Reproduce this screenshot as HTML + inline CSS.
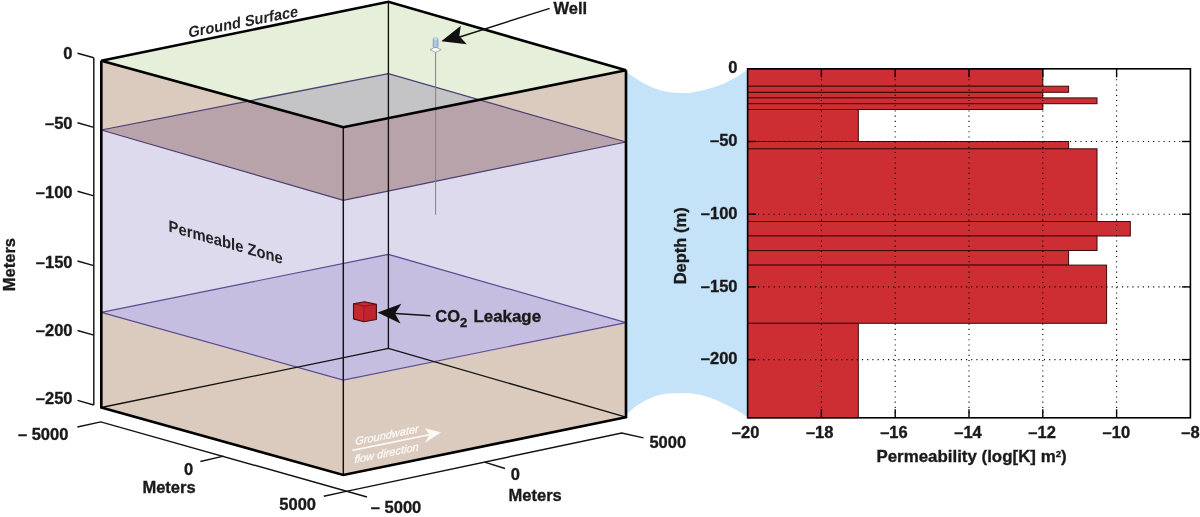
<!DOCTYPE html>
<html><head><meta charset="utf-8"><style>
html,body{margin:0;padding:0;background:#fff;}
svg{display:block;}
</style></head><body>
<svg width="1200" height="517" viewBox="0 0 1200 517">
<path d="M623.5,69.5 C624.2,70.0 626.3,71.4 627.7,72.4 C629.1,73.5 630.0,74.5 631.8,75.8 C633.6,77.1 636.2,78.8 638.5,80.2 C640.8,81.6 643.0,83.1 645.3,84.3 C647.5,85.5 649.8,86.4 652,87.3 C654.2,88.2 656.5,89.0 658.7,89.7 C661.0,90.4 663.2,91.0 665.5,91.4 C667.8,91.9 670.0,92.2 672.3,92.4 C674.5,92.7 676.8,92.8 679,92.9 C681.2,93.0 683.4,93.1 685.5,93.0 C687.6,92.9 689.6,92.7 691.8,92.4 C694.0,92.1 696.2,91.7 698.5,91.3 C700.8,90.9 703.0,90.4 705.3,89.8 C707.5,89.2 709.7,88.5 712,87.8 C714.3,87.1 716.6,86.2 718.9,85.4 C721.2,84.6 723.4,83.7 725.6,82.7 C727.9,81.7 730.1,80.5 732.4,79.3 C734.7,78.0 736.9,76.7 739.2,75.2 C741.5,73.7 744.4,71.7 746,70.5 C747.6,69.3 748.5,68.4 749,68 L749,418.5 C748.5,418.1 747.5,417.2 745.9,416.1 C744.3,415.0 741.5,413.1 739.2,411.7 C737.0,410.3 734.7,409.2 732.4,408 C730.1,406.8 727.9,405.7 725.6,404.6 C723.4,403.5 721.1,402.2 718.9,401.2 C716.6,400.2 714.4,399.3 712.1,398.5 C709.8,397.7 707.6,396.9 705.3,396.2 C703.0,395.5 700.8,394.9 698.5,394.5 C696.2,394.1 694.0,393.8 691.8,393.5 C689.5,393.2 687.1,393.1 685,393 C682.9,392.9 681.3,392.9 679.2,393 C677.1,393.1 674.7,393.2 672.4,393.3 C670.1,393.4 667.8,393.5 665.5,393.8 C663.2,394.1 661.0,394.6 658.7,395.2 C656.5,395.8 654.2,396.6 652,397.5 C649.8,398.4 647.5,399.4 645.3,400.6 C643.0,401.8 640.8,403.1 638.5,404.6 C636.2,406.1 633.6,408.2 631.8,409.7 C630.0,411.2 629.1,412.2 627.7,413.4 C626.3,414.6 624.2,416.4 623.5,417 Z" fill="#c5e3f8"/>
<defs>
<clipPath id="cFront"><polygon points="101.3,60.8 343.3,127.2 626.0,70.3 626.0,417.2 343.3,475.0 101.3,407.5"/></clipPath>
<clipPath id="cTop"><polygon points="101.3,60.8 388.4,1.8 626.0,70.3 343.3,127.2"/></clipPath>
</defs>
<polygon points="101.3,60.8 343.3,127.2 626.0,70.3 626.0,142.0 343.3,200.3 101.3,130.0" fill="#dacbbe"/>
<polygon points="101.3,130.0 343.3,200.3 626.0,142.0 626.0,322.7 343.3,380.1 101.3,312.4" fill="#dedaee"/>
<polygon points="101.3,312.4 343.3,380.1 626.0,322.7 626.0,417.2 343.3,475.0 101.3,407.5" fill="#dacbbe"/>
<polygon points="101.3,60.8 388.4,1.8 626.0,70.3 343.3,127.2" fill="#e5efd9"/>
<polygon points="101.3,130.0 388.4,73.6 626.0,142.0 343.3,200.3" fill="#b9a3ab" clip-path="url(#cFront)"/>
<polygon points="101.3,130.0 388.4,73.6 626.0,142.0 343.3,200.3" fill="#c4c4c6" clip-path="url(#cTop)"/>
<polygon points="101.3,312.4 388.4,254.3 626.0,322.7 343.3,380.1" fill="#c6bee0"/>
<polygon points="101.3,130.0 388.4,73.6 626.0,142.0 343.3,200.3" fill="none" stroke="#4a3d70" stroke-width="1.25"/>
<polygon points="101.3,312.4 388.4,254.3 626.0,322.7 343.3,380.1" fill="none" stroke="#5a4b92" stroke-width="1.2"/>
<polyline points="388.4,1.8 388.4,348.4" fill="none" stroke="#111" stroke-width="1.35"/>
<polyline points="101.3,407.5 388.4,348.4 626.0,417.2" fill="none" stroke="#111" stroke-width="1.3"/>
<polyline points="343.3,127.2 343.3,475.0" fill="none" stroke="#111" stroke-width="1.45"/>
<line x1="435.6" y1="50" x2="435.6" y2="214.8" stroke="#808088" stroke-width="1"/>
<path d="M430,49.6 L435.6,47 L441.2,49.6 L435.6,52.3 Z" fill="#fff" stroke="#8a8a8a" stroke-width="0.7"/>
<rect x="433.2" y="38" width="4.8" height="9.6" rx="1.3" fill="#a6c9e8" stroke="#7d8da0" stroke-width="0.7"/>
<ellipse cx="435.6" cy="38.8" rx="2.1" ry="0.9" fill="#cfe2f2"/>
<polygon points="101.3,60.8 388.4,1.8 626.0,70.3 343.3,127.2" fill="none" stroke="#000" stroke-width="2.65" stroke-linejoin="miter"/>
<polyline points="101.3,60.8 101.3,407.5 343.3,475.0 626.0,417.2 626.0,70.3" fill="none" stroke="#000" stroke-width="2.65" stroke-linejoin="miter"/>
<polygon points="353.5,303.8 364.5,301.8 376.4,304.4 363.7,306.2" fill="#c9282e"/>
<polygon points="353.5,303.8 363.7,306.2 363.7,321.8 353.5,318.9" fill="#c8272d"/>
<polygon points="363.7,306.2 376.4,304.4 376.4,319.5 363.7,321.8" fill="#c0252b"/>
<polygon points="353.5,303.8 364.5,301.8 376.4,304.4 376.4,319.5 363.7,321.8 353.5,318.9" fill="none" stroke="#4a0a0e" stroke-width="1.1" stroke-linejoin="round"/>
<polyline points="353.5,303.8 363.7,306.2 376.4,304.4" fill="none" stroke="#5a1014" stroke-width="0.8"/>
<line x1="363.7" y1="306.2" x2="363.7" y2="321.8" stroke="#7a1519" stroke-width="0.8"/>
<line x1="549.7" y1="8.3" x2="455" y2="38.5" stroke="#111" stroke-width="1.4"/>
<path d="M441.3,41.3 L460.8,25.8 L459.3,36 L466.8,44.3 Z" fill="#111"/>
<line x1="430.4" y1="315.7" x2="392" y2="313.2" stroke="#111" stroke-width="1.5"/>
<path d="M377.6,312.4 L401.4,303.8 L395,313.5 L400.5,323.5 Z" fill="#111"/>
<polyline points="93.8,57.8 93.8,405" fill="none" stroke="#111" stroke-width="1.45"/>
<line x1="77.5" y1="53.2" x2="93.8" y2="57.8" stroke="#111" stroke-width="1.45"/>
<line x1="77.5" y1="122.8" x2="93.8" y2="127.4" stroke="#111" stroke-width="1.45"/>
<line x1="77.5" y1="191.3" x2="93.8" y2="195.9" stroke="#111" stroke-width="1.45"/>
<line x1="77.5" y1="261.0" x2="93.8" y2="265.6" stroke="#111" stroke-width="1.45"/>
<line x1="77.5" y1="330.5" x2="93.8" y2="335.1" stroke="#111" stroke-width="1.45"/>
<line x1="77.5" y1="400.4" x2="93.8" y2="405.0" stroke="#111" stroke-width="1.45"/>
<polyline points="77.4,427 100.8,421.9 367,497" fill="none" stroke="#111" stroke-width="1.45"/>
<polyline points="323.8,496.3 346.2,491.4 621.7,433 643.5,437.9" fill="none" stroke="#111" stroke-width="1.45"/>
<line x1="200.4" y1="461.5" x2="223.5" y2="456.1" stroke="#111" stroke-width="1.45"/>
<line x1="484.6" y1="462.1" x2="505" y2="468.5" stroke="#111" stroke-width="1.45"/>
<rect x="747.6" y="68.8" width="442.8" height="349.0" fill="#fff"/>
<rect x="747.6" y="68.8" width="295.2" height="17.5" fill="#cd2e33" stroke="#3a0a0c" stroke-width="1"/>
<rect x="747.6" y="86.2" width="321.0" height="6.1" fill="#cd2e33" stroke="#3a0a0c" stroke-width="1"/>
<rect x="747.6" y="92.4" width="295.2" height="5.5" fill="#cd2e33" stroke="#3a0a0c" stroke-width="1"/>
<rect x="747.6" y="97.9" width="349.4" height="5.8" fill="#cd2e33" stroke="#3a0a0c" stroke-width="1"/>
<rect x="747.6" y="103.7" width="295.2" height="5.8" fill="#cd2e33" stroke="#3a0a0c" stroke-width="1"/>
<rect x="747.6" y="109.5" width="110.7" height="32.0" fill="#cd2e33" stroke="#3a0a0c" stroke-width="1"/>
<rect x="747.6" y="141.5" width="321.0" height="7.3" fill="#cd2e33" stroke="#3a0a0c" stroke-width="1"/>
<rect x="747.6" y="148.8" width="349.4" height="72.7" fill="#cd2e33" stroke="#3a0a0c" stroke-width="1"/>
<rect x="747.6" y="221.5" width="382.7" height="14.5" fill="#cd2e33" stroke="#3a0a0c" stroke-width="1"/>
<rect x="747.6" y="236.0" width="349.4" height="14.5" fill="#cd2e33" stroke="#3a0a0c" stroke-width="1"/>
<rect x="747.6" y="250.6" width="321.0" height="14.5" fill="#cd2e33" stroke="#3a0a0c" stroke-width="1"/>
<rect x="747.6" y="265.1" width="359.0" height="58.2" fill="#cd2e33" stroke="#3a0a0c" stroke-width="1"/>
<rect x="747.6" y="323.3" width="110.7" height="94.5" fill="#cd2e33" stroke="#3a0a0c" stroke-width="1"/>
<line x1="821.4" y1="68.8" x2="821.4" y2="417.8" stroke="#000" stroke-width="1.1" stroke-dasharray="1.1 4.1"/>
<line x1="895.2" y1="68.8" x2="895.2" y2="417.8" stroke="#000" stroke-width="1.1" stroke-dasharray="1.1 4.1"/>
<line x1="969.0" y1="68.8" x2="969.0" y2="417.8" stroke="#000" stroke-width="1.1" stroke-dasharray="1.1 4.1"/>
<line x1="1042.8" y1="68.8" x2="1042.8" y2="417.8" stroke="#000" stroke-width="1.1" stroke-dasharray="1.1 4.1"/>
<line x1="1116.6" y1="68.8" x2="1116.6" y2="417.8" stroke="#000" stroke-width="1.1" stroke-dasharray="1.1 4.1"/>
<line x1="747.6" y1="141.5" x2="1190.4" y2="141.5" stroke="#000" stroke-width="1.1" stroke-dasharray="1.1 4.1"/>
<line x1="747.6" y1="214.2" x2="1190.4" y2="214.2" stroke="#000" stroke-width="1.1" stroke-dasharray="1.1 4.1"/>
<line x1="747.6" y1="286.9" x2="1190.4" y2="286.9" stroke="#000" stroke-width="1.1" stroke-dasharray="1.1 4.1"/>
<line x1="747.6" y1="359.6" x2="1190.4" y2="359.6" stroke="#000" stroke-width="1.1" stroke-dasharray="1.1 4.1"/>
<line x1="821.4" y1="417.8" x2="821.4" y2="409.3" stroke="#000" stroke-width="1.4"/>
<line x1="821.4" y1="68.8" x2="821.4" y2="77.3" stroke="#000" stroke-width="1.4"/>
<line x1="895.2" y1="417.8" x2="895.2" y2="409.3" stroke="#000" stroke-width="1.4"/>
<line x1="895.2" y1="68.8" x2="895.2" y2="77.3" stroke="#000" stroke-width="1.4"/>
<line x1="969.0" y1="417.8" x2="969.0" y2="409.3" stroke="#000" stroke-width="1.4"/>
<line x1="969.0" y1="68.8" x2="969.0" y2="77.3" stroke="#000" stroke-width="1.4"/>
<line x1="1042.8" y1="417.8" x2="1042.8" y2="409.3" stroke="#000" stroke-width="1.4"/>
<line x1="1042.8" y1="68.8" x2="1042.8" y2="77.3" stroke="#000" stroke-width="1.4"/>
<line x1="1116.6" y1="417.8" x2="1116.6" y2="409.3" stroke="#000" stroke-width="1.4"/>
<line x1="1116.6" y1="68.8" x2="1116.6" y2="77.3" stroke="#000" stroke-width="1.4"/>
<line x1="747.6" y1="141.5" x2="756.1" y2="141.5" stroke="#000" stroke-width="1.4"/>
<line x1="1190.4" y1="141.5" x2="1181.9" y2="141.5" stroke="#000" stroke-width="1.4"/>
<line x1="747.6" y1="214.2" x2="756.1" y2="214.2" stroke="#000" stroke-width="1.4"/>
<line x1="1190.4" y1="214.2" x2="1181.9" y2="214.2" stroke="#000" stroke-width="1.4"/>
<line x1="747.6" y1="286.9" x2="756.1" y2="286.9" stroke="#000" stroke-width="1.4"/>
<line x1="1190.4" y1="286.9" x2="1181.9" y2="286.9" stroke="#000" stroke-width="1.4"/>
<line x1="747.6" y1="359.6" x2="756.1" y2="359.6" stroke="#000" stroke-width="1.4"/>
<line x1="1190.4" y1="359.6" x2="1181.9" y2="359.6" stroke="#000" stroke-width="1.4"/>
<rect x="747.6" y="68.8" width="442.8" height="349.0" fill="none" stroke="#000" stroke-width="1.6"/>
<text x="737.5" y="73.4" font-family="Liberation Sans, Arial, sans-serif" font-weight="bold" font-size="16.5" text-anchor="end" fill="#1a1a1a" stroke="#1a1a1a" stroke-width="0.35" >0</text>
<text x="737.5" y="146.1" font-family="Liberation Sans, Arial, sans-serif" font-weight="bold" font-size="16.5" text-anchor="end" fill="#1a1a1a" stroke="#1a1a1a" stroke-width="0.35" >–50</text>
<text x="737.5" y="218.8" font-family="Liberation Sans, Arial, sans-serif" font-weight="bold" font-size="16.5" text-anchor="end" fill="#1a1a1a" stroke="#1a1a1a" stroke-width="0.35" >–100</text>
<text x="737.5" y="291.5" font-family="Liberation Sans, Arial, sans-serif" font-weight="bold" font-size="16.5" text-anchor="end" fill="#1a1a1a" stroke="#1a1a1a" stroke-width="0.35" >–150</text>
<text x="737.5" y="364.2" font-family="Liberation Sans, Arial, sans-serif" font-weight="bold" font-size="16.5" text-anchor="end" fill="#1a1a1a" stroke="#1a1a1a" stroke-width="0.35" >–200</text>
<text x="745.6" y="438.3" font-family="Liberation Sans, Arial, sans-serif" font-weight="bold" font-size="16.5" text-anchor="middle" fill="#1a1a1a" stroke="#1a1a1a" stroke-width="0.35" >–20</text>
<text x="819.7" y="438.3" font-family="Liberation Sans, Arial, sans-serif" font-weight="bold" font-size="16.5" text-anchor="middle" fill="#1a1a1a" stroke="#1a1a1a" stroke-width="0.35" >–18</text>
<text x="893.9" y="438.3" font-family="Liberation Sans, Arial, sans-serif" font-weight="bold" font-size="16.5" text-anchor="middle" fill="#1a1a1a" stroke="#1a1a1a" stroke-width="0.35" >–16</text>
<text x="968.0" y="438.3" font-family="Liberation Sans, Arial, sans-serif" font-weight="bold" font-size="16.5" text-anchor="middle" fill="#1a1a1a" stroke="#1a1a1a" stroke-width="0.35" >–14</text>
<text x="1042.1" y="438.3" font-family="Liberation Sans, Arial, sans-serif" font-weight="bold" font-size="16.5" text-anchor="middle" fill="#1a1a1a" stroke="#1a1a1a" stroke-width="0.35" >–12</text>
<text x="1116.3" y="438.3" font-family="Liberation Sans, Arial, sans-serif" font-weight="bold" font-size="16.5" text-anchor="middle" fill="#1a1a1a" stroke="#1a1a1a" stroke-width="0.35" >–10</text>
<text x="1190.4" y="438.3" font-family="Liberation Sans, Arial, sans-serif" font-weight="bold" font-size="16.5" text-anchor="middle" fill="#1a1a1a" stroke="#1a1a1a" stroke-width="0.35" >–8</text>
<text x="971.5" y="462.2" font-family="Liberation Sans, Arial, sans-serif" font-weight="bold" font-size="16.9" text-anchor="middle" fill="#1a1a1a" stroke="#1a1a1a" stroke-width="0.35" >Permeability (log[K] m<tspan font-size="9.5" dy="-5.6">2</tspan><tspan dy="5.6">)</tspan></text>
<text x="0" y="0" font-family="Liberation Sans, Arial, sans-serif" font-weight="bold" font-size="16.5" text-anchor="middle" fill="#1a1a1a" stroke="#1a1a1a" stroke-width="0.35" transform="translate(685.5,245.8) rotate(-90)">Depth (m)</text>
<text x="72.5" y="59" font-family="Liberation Sans, Arial, sans-serif" font-weight="bold" font-size="16.5" text-anchor="end" fill="#1a1a1a" stroke="#1a1a1a" stroke-width="0.35" >0</text>
<text x="72.5" y="129.3" font-family="Liberation Sans, Arial, sans-serif" font-weight="bold" font-size="16.5" text-anchor="end" fill="#1a1a1a" stroke="#1a1a1a" stroke-width="0.35" >–50</text>
<text x="72.5" y="197.7" font-family="Liberation Sans, Arial, sans-serif" font-weight="bold" font-size="16.5" text-anchor="end" fill="#1a1a1a" stroke="#1a1a1a" stroke-width="0.35" >–100</text>
<text x="72.5" y="268.2" font-family="Liberation Sans, Arial, sans-serif" font-weight="bold" font-size="16.5" text-anchor="end" fill="#1a1a1a" stroke="#1a1a1a" stroke-width="0.35" >–150</text>
<text x="72.5" y="335.9" font-family="Liberation Sans, Arial, sans-serif" font-weight="bold" font-size="16.5" text-anchor="end" fill="#1a1a1a" stroke="#1a1a1a" stroke-width="0.35" >–200</text>
<text x="72.5" y="404.3" font-family="Liberation Sans, Arial, sans-serif" font-weight="bold" font-size="16.5" text-anchor="end" fill="#1a1a1a" stroke="#1a1a1a" stroke-width="0.35" >–250</text>
<text x="0" y="0" font-family="Liberation Sans, Arial, sans-serif" font-weight="bold" font-size="16.5" text-anchor="middle" fill="#1a1a1a" stroke="#1a1a1a" stroke-width="0.35" transform="translate(15,264.6) rotate(-90)">Meters</text>
<text x="68.4" y="440" font-family="Liberation Sans, Arial, sans-serif" font-weight="bold" font-size="16.5" text-anchor="end" fill="#1a1a1a" stroke="#1a1a1a" stroke-width="0.35" >– 5000</text>
<text x="193.3" y="475" font-family="Liberation Sans, Arial, sans-serif" font-weight="bold" font-size="16.5" text-anchor="end" fill="#1a1a1a" stroke="#1a1a1a" stroke-width="0.35" >0</text>
<text x="169" y="493" font-family="Liberation Sans, Arial, sans-serif" font-weight="bold" font-size="16.5" text-anchor="middle" fill="#1a1a1a" stroke="#1a1a1a" stroke-width="0.35" >Meters</text>
<text x="316" y="510.4" font-family="Liberation Sans, Arial, sans-serif" font-weight="bold" font-size="16.5" text-anchor="end" fill="#1a1a1a" stroke="#1a1a1a" stroke-width="0.35" >5000</text>
<text x="370.8" y="513.2" font-family="Liberation Sans, Arial, sans-serif" font-weight="bold" font-size="16.5" text-anchor="start" fill="#1a1a1a" stroke="#1a1a1a" stroke-width="0.35" >– 5000</text>
<text x="510.8" y="480.2" font-family="Liberation Sans, Arial, sans-serif" font-weight="bold" font-size="16.5" text-anchor="start" fill="#1a1a1a" stroke="#1a1a1a" stroke-width="0.35" >0</text>
<text x="535.2" y="500.6" font-family="Liberation Sans, Arial, sans-serif" font-weight="bold" font-size="16.5" text-anchor="middle" fill="#1a1a1a" stroke="#1a1a1a" stroke-width="0.35" >Meters</text>
<text x="649.4" y="448" font-family="Liberation Sans, Arial, sans-serif" font-weight="bold" font-size="16.5" text-anchor="start" fill="#1a1a1a" stroke="#1a1a1a" stroke-width="0.35" >5000</text>
<text x="553.5" y="14.3" font-family="Liberation Sans, Arial, sans-serif" font-weight="bold" font-size="16.5" text-anchor="start" fill="#1a1a1a" stroke="#1a1a1a" stroke-width="0.35" >Well</text>
<text x="435.3" y="321.5" font-family="Liberation Sans, Arial, sans-serif" font-weight="bold" font-size="16.5" text-anchor="start" fill="#1a1a1a" stroke="#1a1a1a" stroke-width="0.35" >CO<tspan font-size="13" dy="5">2</tspan><tspan dy="-5" dx="1.5" font-size="16.9"> Leakage</tspan></text>
<text x="0" y="0" font-family="Liberation Sans, Arial, sans-serif" font-weight="bold" font-size="14.6" fill="#222" transform="translate(188.6,37.7) skewY(-11) scale(0.993,1.07)">Ground Surface</text>
<text x="0" y="0" font-family="Liberation Sans, Arial, sans-serif" font-weight="bold" font-size="14.8" fill="#222" transform="translate(168.6,231.3) skewY(16) scale(1,1.1)">Permeable Zone</text>
<g transform="translate(352.2,450.3) skewY(-11.4)" fill="#fbf8f6" style="font-family:'Liberation Sans',Arial,sans-serif;font-style:italic;font-size:11px" stroke="#fbf8f6" stroke-width="0.3"><text x="3" y="-4.6">Groundwater</text><text x="2.3" y="13.4">flow direction</text><line x1="0" y1="0" x2="79" y2="0" stroke="#fbf8f6" stroke-width="1.8"/><path d="M88.6,0 L73,-7 L77.5,0 L73,7 Z" fill="#fbf8f6"/></g>
</svg>
</body></html>
